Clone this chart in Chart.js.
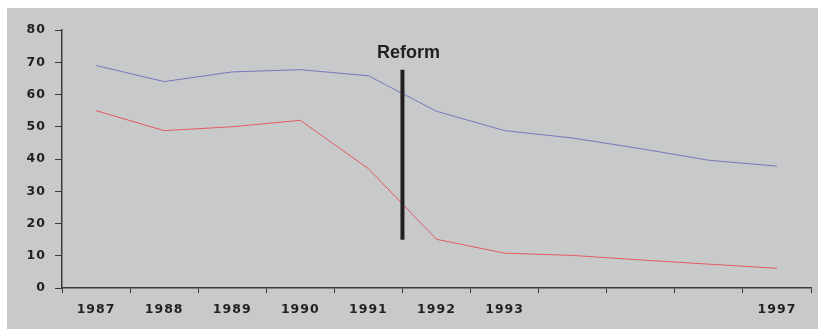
<!DOCTYPE html>
<html>
<head>
<meta charset="utf-8">
<script src="https://cdn.jsdelivr.net/npm/chart.js@4/dist/chart.umd.min.js"></script>
<style>
  html, body { margin: 0; padding: 0; background: #ffffff; }
  #wrap { position: absolute; left: 7px; top: 8px; width: 811px; height: 321px; background: #c8c9cb; }
  canvas { display: block; }
</style>
</head>
<body>
<div id="wrap"><canvas id="c" width="811" height="321"></canvas></div>
<script>
// ---- data ----
const categories = ['1987','1988','1989','1990','1991','1992','1993','1994','1995','1996','1997'];
const tickLabels = ['1987','1988','1989','1990','1991','1992','1993','','','','1997'];
const upperSeries = [69, 64, 67, 67.7, 65.8, 54.8, 48.8, 46.5, 43.2, 39.6, 37.8];
const lowerSeries = [55, 48.8, 50, 52, 37, 15.1, 10.8, 10.1, 8.7, 7.4, 6.1];
const yTicks = [0, 10, 20, 30, 40, 50, 60, 70, 80];
const reformPosition = 4.5;          // between 1991 and 1992
const reformRange = [15, 67.7];
const reformLabel = 'Reform';

const textColor = '#231f20';
const axisColor = '#3a3a3a';
const tickFont = { family: '"DejaVu Sans", Verdana, sans-serif', size: 12.5, weight: 'bold' };

const reformPlugin = {
  id: 'reform',
  beforeDraw(chart) {
    chart.ctx.letterSpacing = '1px';
  },
  afterDatasetsDraw(chart) {
    const { ctx, scales: { x, y } } = chart;
    const px = x.getPixelForValue(reformPosition);
    ctx.save();
    ctx.letterSpacing = '0px';
    ctx.strokeStyle = textColor;
    ctx.lineWidth = 4;
    ctx.beginPath();
    ctx.moveTo(px, y.getPixelForValue(reformRange[0]));
    ctx.lineTo(px, y.getPixelForValue(reformRange[1]));
    ctx.stroke();
    ctx.fillStyle = textColor;
    ctx.font = 'bold 18px "Liberation Sans", Arial, sans-serif';
    ctx.textAlign = 'center';
    ctx.textBaseline = 'alphabetic';
    ctx.fillText(reformLabel, px + 6, y.getPixelForValue(reformRange[1]) - 12);
    ctx.restore();
  }
};

new Chart(document.getElementById('c'), {
  type: 'line',
  data: {
    labels: categories,
    datasets: [
      { data: upperSeries, borderColor: '#7579bd', borderWidth: 1, pointRadius: 0, tension: 0, fill: false },
      { data: lowerSeries, borderColor: '#e35a5f', borderWidth: 1, pointRadius: 0, tension: 0, fill: false }
    ]
  },
  options: {
    responsive: false,
    animation: false,
    layout: { padding: { left: 0, right: 7, top: 22, bottom: 0 } },
    plugins: { legend: { display: false }, tooltip: { enabled: false } },
    scales: {
      x: {
        type: 'category',
        offset: true,
        grid: { offset: true, drawOnChartArea: false, drawTicks: true, tickLength: 5, color: axisColor },
        border: { display: true, color: axisColor, width: 1.5 },
        ticks: {
          autoSkip: false, maxRotation: 0, minRotation: 0,
          color: textColor, padding: 9,
          font: tickFont,
          callback: (v, i) => tickLabels[i]
        },
        afterFit: s => { s.height = 41; }
      },
      y: {
        min: yTicks[0], max: yTicks[yTicks.length - 1],
        afterBuildTicks: s => { s.ticks = yTicks.map(v => ({ value: v })); },
        grid: { drawOnChartArea: false, drawTicks: true, tickLength: 7, color: axisColor },
        border: { display: true, color: axisColor, width: 1.5 },
        ticks: {
          color: textColor, padding: 9,
          font: tickFont
        },
        afterFit: s => { s.width = 55; }
      }
    }
  },
  plugins: [reformPlugin]
});
</script>
</body>
</html>
